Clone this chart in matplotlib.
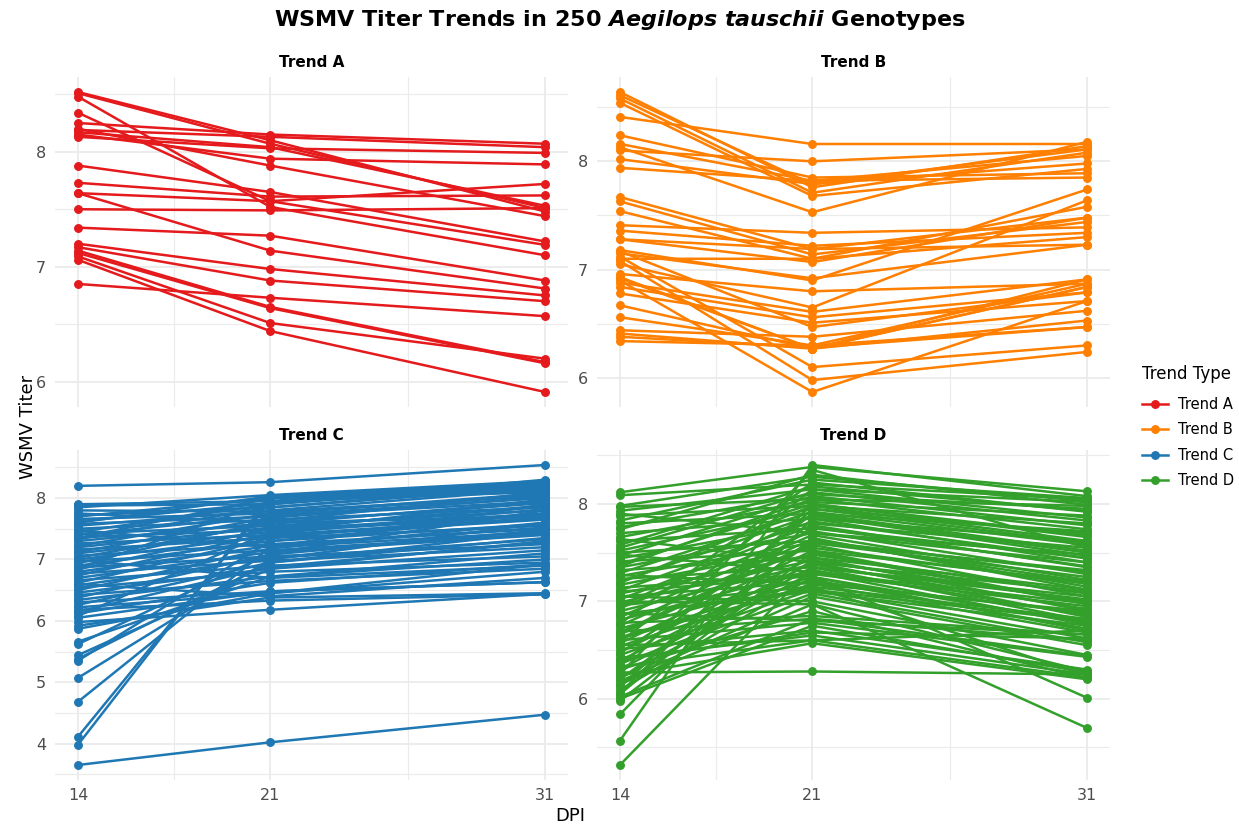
import numpy as np
import matplotlib
matplotlib.use("Agg")
import matplotlib.pyplot as plt
from matplotlib.lines import Line2D
from matplotlib.ticker import MultipleLocator, FixedLocator

plt.rcParams['font.family'] = ['DejaVu Sans']
plt.rcParams['mathtext.fontset'] = 'custom'
plt.rcParams['mathtext.it'] = 'DejaVu Sans:italic:bold'

dpi_days = [14, 21, 31]
trend_names = ["Trend A", "Trend B", "Trend C", "Trend D"]
trend_colors = ["#E41A1C", "#FF7F00", "#1F78B4", "#33A02C"]

# titer at 14 / 21 / 31 DPI, one entry per genotype
a14 = [8.52, 8.51, 8.48, 8.34, 8.25, 8.19, 8.17, 8.15, 8.13, 8.20, 7.88, 7.73,
       7.64, 7.64, 7.50, 7.34, 7.20, 7.17, 7.14, 7.12, 7.09, 7.06, 6.85]
a21 = [8.10, 8.07, 7.52, 7.57, 8.15, 8.13, 8.04, 7.94, 8.03, 7.88, 7.65, 7.61,
       7.57, 7.14, 7.49, 7.27, 6.98, 6.88, 6.65, 6.64, 6.51, 6.44, 6.73]
a31 = [7.48, 7.51, 7.10, 7.19, 8.07, 8.04, 7.53, 7.89, 7.99, 7.44, 7.22, 7.62,
       7.72, 6.81, 7.51, 6.88, 6.75, 6.70, 6.17, 6.16, 6.20, 5.91, 6.57]

b14 = [8.64, 8.61, 8.58, 8.54, 8.41, 8.24, 8.16, 8.13, 8.10, 8.02, 7.94, 7.67,
       7.63, 7.54, 7.41, 7.36, 7.28, 7.28, 7.18, 7.15, 7.10, 7.05, 6.96, 6.93,
       6.88, 6.84, 6.78, 6.67, 6.56, 6.44, 6.41, 6.34, 7.12, 7.08, 6.90, 7.17,
       6.92, 6.38]
b21 = [7.76, 7.79, 7.71, 7.68, 8.16, 7.85, 7.82, 7.53, 8.00, 7.79, 7.82, 7.19,
       7.14, 7.10, 7.34, 7.22, 7.19, 7.07, 6.90, 6.92, 7.10, 6.65, 6.80, 6.27,
       6.61, 6.56, 6.51, 6.27, 6.30, 6.38, 6.27, 6.30, 6.10, 5.98, 5.87, 6.47,
       6.27, 6.28]
b31 = [8.14, 8.11, 8.08, 7.93, 8.16, 7.89, 8.05, 8.18, 8.11, 7.98, 7.85, 7.48,
       7.44, 7.30, 7.39, 7.34, 7.23, 7.48, 7.74, 7.23, 7.58, 7.64, 6.87, 6.84,
       6.91, 6.79, 6.71, 6.84, 6.87, 6.62, 6.53, 6.47, 6.30, 6.24, 6.71, 6.79,
       6.91, 6.47]

c14 = [8.20, 3.65, 4.11, 3.98, 4.68, 5.07, 5.44, 5.38, 5.35, 5.66, 5.62, 5.92,
       5.87, 5.98, 6.05, 7.90, 7.88, 7.85, 7.72, 7.70, 7.66, 7.62, 7.58, 7.55,
       7.50, 7.45, 7.42, 7.40, 7.36, 7.33, 7.30, 7.26, 7.22, 7.20, 7.16, 7.12,
       7.10, 7.06, 7.03, 7.00, 6.97, 6.94, 6.90, 6.87, 6.84, 6.80, 6.77, 6.74,
       6.70, 6.66, 6.62, 6.58, 6.54, 6.50, 6.46, 6.42, 6.38, 6.34, 6.30, 6.26,
       6.22, 6.18, 6.15, 6.12, 6.08, 7.80, 7.75, 7.48, 6.99, 6.60, 7.60, 7.35,
       6.85]
c21 = [8.26, 4.02, 7.95, 8.02, 7.20, 7.00, 6.85, 6.95, 7.30, 6.72, 7.10, 6.38,
       6.45, 6.18, 6.48, 7.95, 7.90, 8.05, 7.85, 8.00, 7.75, 7.92, 7.70, 7.80,
       7.65, 7.90, 7.55, 7.72, 7.48, 7.85, 7.60, 7.40, 7.75, 7.52, 7.35, 7.68,
       7.45, 7.25, 7.58, 7.38, 7.15, 7.62, 7.30, 7.05, 7.50, 7.22, 6.98, 7.42,
       7.12, 6.90, 7.35, 7.02, 6.80, 7.18, 6.85, 6.65, 7.08, 6.72, 6.48, 6.95,
       6.45, 6.33, 6.88, 6.62, 7.45, 7.78, 7.60, 7.20, 6.70, 6.40, 8.03, 8.00,
       7.95]
c31 = [8.54, 4.47, 8.28, 8.25, 7.90, 7.60, 7.30, 7.45, 7.70, 7.10, 7.80, 6.45,
       6.92, 6.44, 6.63, 8.10, 8.30, 8.28, 8.20, 8.12, 8.05, 8.25, 7.95, 8.15,
       7.85, 8.22, 7.80, 8.00, 7.75, 8.18, 7.92, 7.68, 8.08, 7.86, 7.55, 8.02,
       7.72, 7.50, 7.95, 7.65, 7.42, 8.10, 7.58, 7.25, 7.88, 7.52, 7.20, 7.82,
       7.40, 7.05, 7.75, 7.33, 6.95, 7.60, 7.15, 6.85, 7.48, 7.00, 6.63, 7.35,
       6.80, 6.43, 7.28, 6.92, 7.98, 8.04, 7.70, 7.45, 6.90, 6.70, 8.26, 8.20,
       8.15]

d14 = [8.12, 8.09, 7.97, 7.93, 7.88, 7.83, 7.80, 7.76, 7.70, 7.66, 7.62, 7.58,
       7.52, 7.50, 7.47, 7.44, 7.41, 7.38, 7.35, 7.32, 7.29, 7.26, 7.23, 7.20,
       7.17, 7.14, 7.11, 7.08, 7.05, 7.02, 6.99, 6.96, 6.93, 6.90, 6.87, 6.84,
       6.81, 6.78, 6.75, 6.72, 6.69, 6.66, 6.63, 6.60, 6.57, 6.54, 6.51, 6.48,
       6.45, 6.42, 6.39, 6.36, 6.33, 6.30, 6.27, 6.24, 6.21, 6.18, 6.15, 6.12,
       6.09, 6.05, 6.02, 5.98, 5.84, 5.57, 5.32, 7.98, 7.90, 7.74, 7.64, 7.55,
       7.48, 7.36, 7.27, 7.19, 7.10, 7.00, 6.95, 6.86, 6.77, 6.68, 6.58, 6.47,
       6.35, 6.25, 6.20, 6.14, 6.06, 6.00, 6.40, 6.55, 6.88, 7.05, 6.62, 6.30]
d21 = [8.38, 8.20, 8.05, 8.15, 7.98, 8.25, 7.90, 8.10, 7.85, 8.02, 7.75, 8.18,
       7.95, 7.62, 8.08, 7.80, 7.52, 8.00, 7.70, 7.45, 7.92, 7.60, 7.35, 7.88,
       7.55, 7.28, 7.82, 7.48, 7.20, 7.78, 7.42, 7.15, 7.72, 7.38, 7.10, 7.68,
       7.32, 6.85, 7.64, 7.25, 6.82, 7.58, 7.22, 6.78, 7.52, 7.18, 6.70, 7.45,
       7.12, 6.65, 7.40, 7.08, 6.60, 7.35, 6.28, 6.57, 7.30, 7.05, 6.97, 7.95,
       7.25, 7.65, 6.82, 7.50, 7.85, 8.40, 7.35, 8.28, 7.70, 8.30, 7.40, 8.12,
       7.30, 8.05, 7.18, 7.98, 7.26, 6.97, 7.88, 7.12, 8.22, 7.60, 8.15, 7.76,
       7.90, 8.35, 7.62, 7.42, 8.00, 6.75, 6.68, 6.60, 6.80, 7.00, 7.15, 6.90]
d31 = [8.13, 8.05, 7.98, 8.02, 7.80, 8.06, 7.72, 7.95, 7.62, 7.88, 7.45, 7.93,
       7.70, 7.30, 7.78, 7.55, 7.20, 7.66, 7.40, 7.12, 7.58, 7.25, 7.02, 7.50,
       7.18, 6.95, 7.44, 7.08, 6.88, 7.35, 7.00, 6.82, 7.28, 6.92, 6.75, 7.22,
       6.86, 6.66, 7.15, 6.78, 6.60, 7.05, 6.72, 6.43, 6.98, 6.68, 6.30, 6.90,
       6.62, 6.25, 6.84, 6.58, 6.22, 6.80, 6.25, 6.20, 6.76, 6.55, 6.28, 7.60,
       6.70, 7.12, 6.44, 6.97, 7.40, 8.08, 7.05, 8.03, 7.48, 7.99, 7.10, 7.83,
       6.98, 7.74, 6.90, 7.62, 6.01, 5.70, 7.47, 6.80, 7.92, 7.32, 7.86, 7.36,
       7.52, 7.55, 7.20, 7.00, 7.68, 6.27, 6.62, 6.70, 6.66, 6.45, 6.24, 6.21]

series = [(a14, a21, a31), (b14, b21, b31), (c14, c21, c31), (d14, d21, d31)]

fig = plt.figure(figsize=(12.39, 8.27), dpi=100)
W, H = 1239, 827
boxes = [(54.6, 77), (596.6, 77), (54.6, 450), (596.6, 450)]
pw, ph = 513.8, 330

grid_c = "#EBEBEB"
for i, (name, col, (v14, v21, v31)) in enumerate(zip(trend_names, trend_colors, series)):
    x0, y0 = boxes[i]
    ax = fig.add_axes([x0 / W, 1 - (y0 + ph) / H, pw / W, ph / H])
    for s, m, e in zip(v14, v21, v31):
        ax.plot(dpi_days, [s, m, e], color=col, lw=1.8, marker="o", ms=5.4,
                solid_capstyle="round")
    ax.margins(x=0.05, y=0.05)
    ax.xaxis.set_major_locator(FixedLocator(dpi_days))
    ax.xaxis.set_minor_locator(FixedLocator([17.5, 26]))
    ax.yaxis.set_major_locator(MultipleLocator(1))
    ax.yaxis.set_minor_locator(MultipleLocator(0.5))
    ax.grid(which="major", color=grid_c, lw=1.3)
    ax.grid(which="minor", color=grid_c, lw=0.8)
    ax.set_axisbelow(True)
    for sp in ax.spines.values():
        sp.set_visible(False)
    ax.tick_params(which="both", length=0, labelsize=11.5, labelcolor="#4D4D4D", pad=6)
    if i < 2:
        ax.tick_params(axis="x", labelbottom=False)
    ax.set_title(name, fontsize=11, fontweight="bold", pad=7)

fig.text(620 / W, 1 - 20 / H,
         r"WSMV Titer Trends in 250 $Aegilops\ tauschii$ Genotypes",
         ha="center", va="center", fontsize=16, fontweight="bold")
fig.text(28 / W, 1 - 427 / H, "WSMV Titer", rotation=90, ha="center", va="center",
         fontsize=13)
fig.text(570 / W, 1 - 816 / H, "DPI", ha="center", va="center", fontsize=13)

handles = [Line2D([0], [0], color=c, lw=1.8, marker="o", ms=5.4) for c in trend_colors]
leg = fig.legend(handles, trend_names, title="Trend Type", loc="upper left",
                 bbox_to_anchor=(1142 / W, 1 - 365 / H), frameon=False,
                 borderpad=0, borderaxespad=0, handletextpad=0.7,
                 fontsize=10.5, title_fontsize=12, handlelength=1.8,
                 labelspacing=0.72, alignment="left")
leg._legend_box.sep = 10

fig.savefig("out.png", dpi=100, facecolor="white")
